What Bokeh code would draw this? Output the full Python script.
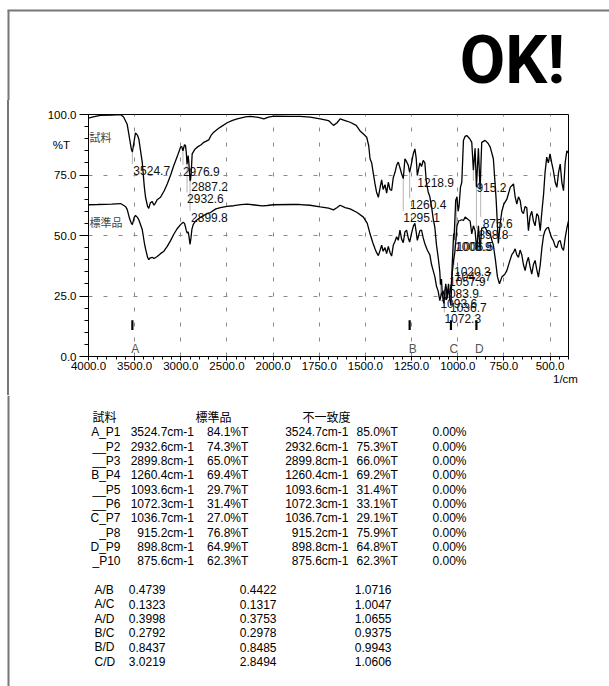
import numpy as np
from bokeh.plotting import figure
from bokeh.layouts import column, row
from bokeh.models import (ColumnDataSource, FixedTicker, LinearAxis,
                          NumeralTickFormatter, Range1d)
from bokeh.core.properties import value
from bokeh.embed import file_html
from bokeh.resources import INLINE

# ---------------- spectra (wavenumber in 1/cm, transmittance in %T) ----------------
sample_wn = [4000, 3950, 3870, 3750, 3653, 3620, 3581, 3555, 3535, 3524.7, 3510, 3491, 3470, 3455,
             3418, 3395, 3382, 3360, 3347, 3330, 3310, 3290, 3274, 3256, 3220, 3180, 3147, 3110,
             3076, 3040, 3003, 2990, 2976.9, 2960, 2949, 2940, 2932.6, 2920, 2913, 2899.8, 2887.2,
             2877, 2850, 2822, 2780, 2751, 2697, 2670, 2643, 2600, 2570, 2498, 2440, 2389, 2300,
             2245, 2160, 2100, 2050, 1996, 1900, 1854, 1800, 1745, 1700, 1673, 1655, 1637, 1610,
             1583, 1550, 1529, 1505, 1493, 1482, 1475, 1466, 1458, 1448, 1440, 1430, 1420, 1412,
             1404, 1394, 1385, 1376, 1367, 1358, 1349, 1340, 1331, 1322, 1313, 1304, 1295, 1286,
             1277, 1268, 1260.4, 1250, 1240, 1232, 1225, 1218.9, 1205, 1196, 1187, 1178, 1170,
             1160, 1151, 1142, 1133, 1124, 1115, 1106, 1097, 1093.6, 1088, 1083.9, 1076, 1072.3,
             1065, 1061, 1057.9, 1050, 1043, 1036.7, 1030, 1022, 1020.3, 1011, 1004, 998, 993,
             985, 978, 969, 960, 951, 935, 924, 915.2, 906, 898.8, 888, 879, 870, 852, 835, 824,
             807, 792, 780, 770, 761, 750, 734, 715, 698, 689, 680, 671, 662, 653, 644, 635, 626,
             617, 608, 599, 590, 581, 572, 563, 553, 544, 535, 527, 518, 509, 500, 491, 482, 472,
             463, 454, 445, 436, 427, 418, 409, 400]
sample_t = [98.5, 99.0, 99.6, 99.8, 100.0, 99.0, 96.0, 90.0, 85.5, 84.5, 88.0, 92.4, 91.5, 89.9,
            80.3, 70.0, 65.8, 62.0, 61.2, 63.5, 64.0, 62.5, 63.5, 64.8, 65.8, 68.5, 71.3, 75.0,
            78.9, 82.5, 86.5, 86.8, 85.0, 87.5, 87.2, 84.0, 79.5, 83.0, 80.0, 72.5, 76.0,
            83.7, 85.5, 86.5, 87.5, 88.5, 89.5, 91.5, 92.7, 94.0, 94.8, 96.6, 97.6, 98.2, 99.0,
            99.2, 98.8, 98.2, 98.9, 99.3, 99.2, 99.2, 98.9, 98.2, 97.5, 95.5, 96.5, 98.2, 97.5,
            96.8, 95.5, 93.2, 91.5, 90.6, 87.0, 81.7, 80.0, 76.0, 71.3, 68.0, 65.8, 70.0, 73.0,
            69.0, 71.0, 67.5, 72.0, 69.0, 68.6, 74.0, 76.0, 79.0, 80.3, 78.0, 75.5, 73.5, 81.7,
            80.5, 79.0, 76.1, 80.0, 84.0, 85.8, 82.0, 74.8, 80.0, 78.5, 81.0, 80.0, 72.0,
            68.0, 66.0, 62.0, 57.0, 53.4, 46.0, 41.0, 35.0, 29.7, 32.0, 26.0, 21.9, 25.0,
            30.0, 28.0, 24.0, 30.0, 23.6, 21.0, 38.0, 50.8, 48.0, 64.5, 66.0, 60.0, 62.0,
            70.0, 72.0, 89.3, 91.0, 91.3, 90.0, 88.5, 77.0, 86.0, 70.0, 86.0, 69.0, 88.5, 89.3, 88.0, 86.5,
            81.7, 65.0, 46.7, 55.0, 60.0, 63.0, 65.0, 70.0, 71.3, 66.0, 63.0, 66.0, 64.5, 60.0, 59.0, 62.0, 61.5,
            52.0, 58.0, 60.0, 56.0, 54.0, 59.0, 58.0, 52.0, 60.0, 67.0, 76.0, 82.4, 80.0, 83.7, 80.0, 76.8, 72.0,
            69.9, 76.0, 79.5, 72.0, 68.5, 80.0, 85.0, 84.0]

standard_wn = [4000, 3900, 3750, 3653, 3600, 3581, 3555, 3535, 3524.7, 3505, 3491, 3470, 3455, 3418,
               3395, 3382, 3360, 3347, 3330, 3310, 3290, 3256, 3220, 3183, 3147, 3111, 3076, 3040,
               3003, 2974, 2960, 2949, 2940, 2931, 2920, 2913, 2899.8, 2890, 2880, 2866, 2840,
               2787, 2720, 2679, 2620, 2570, 2500, 2426, 2350, 2281, 2200, 2120, 2064, 2000, 1900,
               1854, 1800, 1745, 1700, 1673, 1655, 1637, 1610, 1583, 1545, 1511, 1490, 1475, 1460,
               1448, 1440, 1430, 1420, 1412, 1404, 1394, 1385, 1376, 1367, 1358, 1349, 1340, 1331,
               1322, 1313, 1304, 1295, 1286, 1277, 1268, 1260.4, 1250, 1240, 1232, 1225, 1218.9,
               1205, 1196, 1187, 1178, 1165, 1151, 1142, 1133, 1124, 1115, 1106, 1097, 1088, 1079,
               1070, 1061, 1050, 1043, 1035, 1029, 1022, 1016, 1010, 1004, 995, 987, 978, 969, 960,
               942, 933, 924, 915, 906, 897, 888, 879, 870, 852, 835, 824, 815, 807, 796, 785, 774,
               760, 745, 734, 720, 707, 698, 689, 680, 671, 662, 653, 644, 635, 626, 617, 608, 599,
               590, 581, 572, 563, 553, 544, 535, 527, 518, 509, 500, 491, 482, 472, 463, 454, 445,
               436, 427, 418, 409, 400]
standard_t = [62.7, 62.8, 63.0, 63.2, 62.0, 60.8, 57.0, 55.0, 54.5, 57.5, 58.3, 57.5, 56.5, 52.5,
              47.0, 44.5, 41.0, 40.0, 40.8, 41.0, 40.5, 41.3, 42.5, 43.5, 45.5, 47.9, 50.5, 52.8,
              54.5, 55.5, 55.0, 53.5, 52.0, 51.0, 51.5, 50.0, 46.3, 49.0, 52.5, 54.5, 56.0,
              57.5, 59.0, 59.5, 61.0, 61.5, 62.0, 62.3, 62.8, 63.0, 62.6, 62.2, 62.4, 62.7, 62.8,
              62.8, 62.5, 61.8, 61.3, 60.6, 61.5, 62.5, 61.5, 61.0, 59.5, 57.6, 55.0, 50.7, 47.0,
              44.5, 43.0, 41.7, 44.0, 46.0, 43.5, 45.0, 42.5, 45.5, 43.0, 41.5, 46.0, 47.5, 49.5,
              48.0, 52.2, 48.5, 47.0, 51.5, 52.2, 49.0, 47.3, 51.0, 54.0, 55.0, 51.5, 48.0,
              52.0, 52.2, 49.0, 46.6, 44.0, 42.0, 38.0, 35.5, 33.0, 29.0, 27.0, 23.1, 26.0, 27.0,
              24.0, 23.5, 27.0, 26.0, 30.0, 35.0, 40.0, 42.9, 48.0, 54.0, 56.0, 56.2, 56.5, 56.2, 57.6,
              56.5, 56.0, 50.7, 54.0, 52.0, 43.8, 54.0, 44.0, 53.0, 53.4, 51.0, 50.5, 48.0, 46.0, 40.0, 33.0, 30.0,
              33.0, 34.0, 35.5, 39.0, 42.1, 43.0, 44.5, 42.0, 41.0, 44.0, 42.0, 38.0, 35.5, 39.0, 41.0, 37.0, 34.0,
              38.0, 39.7, 36.0, 32.8, 38.0, 45.0, 50.0, 52.0, 53.0, 53.4, 51.0, 49.0, 47.9, 45.5, 45.0, 47.5, 47.9,
              45.0, 43.8, 49.0, 53.0, 56.0]

# peak annotations on the spectra
peak_text = ["3524.7", "2976.9", "2887.2", "2932.6", "2899.8", "1218.9", "1260.4", "1295.1",
             "915.2", "875.6", "898.8", "1006.5", "1008.9", "1020.3", "1042.7", "1057.9",
             "1083.9", "1093.6", "1036.7", "1072.3"]
peak_at = [3524.7, 2976.9, 2887.2, 2932.6, 2899.8, 1218.9, 1260.4, 1295.1,
           915.2, 875.6, 898.8, 1006.5, 1008.9, 1020.3, 1042.7, 1057.9,
           1083.9, 1093.6, 1036.7, 1072.3]
peak_label_t = [76.9, 76.6, 70.2, 65.2, 57.6, 72.0, 62.7, 57.6,
                70.0, 55.1, 50.4, 45.5, 45.5, 35.2, 33.2, 31.0,
                26.2, 22.0, 20.1, 15.6]
peak_dx = [1, 0, 0, 0, 1, 0, 0, 0, 3, 2, 2, 0, -1, 0, 5, 2, 0, 0, -1, 0]

# reference bands A-D
band_names = ["A", "B", "C", "D"]
band_wn = [3524.7, 1260.4, 1036.7, 898.8]

# peak table
peak_names = ["A_P1", "__P2", "__P3", "B_P4", "__P5", "__P6", "C_P7", "_P8", "D_P9", "_P10"]
peak_wn = [3524.7, 2932.6, 2899.8, 1260.4, 1093.6, 1072.3, 1036.7, 915.2, 898.8, 875.6]
sample_pct = [84.1, 74.3, 65.0, 69.4, 29.7, 31.4, 27.0, 76.8, 64.9, 62.3]
standard_pct = [85.0, 75.3, 66.0, 69.2, 31.4, 33.1, 29.1, 75.9, 64.8, 62.3]
mismatch_pct = [0.00, 0.00, 0.00, 0.00, 0.00, 0.00, 0.00, 0.00, 0.00, 0.00]

# band ratios
ratio_names = ["A/B", "A/C", "A/D", "B/C", "B/D", "C/D"]
ratio_sample = [0.4739, 0.1323, 0.3998, 0.2792, 0.8437, 3.0219]
ratio_standard = [0.4422, 0.1317, 0.3753, 0.2978, 0.8485, 2.8494]
ratio_quotient = [1.0716, 1.0047, 1.0655, 0.9375, 0.9943, 1.0606]

major_wn = [4000, 3500, 3000, 2500, 2000, 1750, 1500, 1250, 1000, 750, 500]
major_t = [0, 25, 50, 75, 100]


def axis_pos(wn):
    """Wavenumber -> axis coordinate; the range below 2000 1/cm is drawn at double scale."""
    wn = np.asarray(wn, dtype=float)
    return np.where(wn >= 2000, 4000 - wn, 2000 + 2 * (2000 - wn))


W, H = 609, 686
RULE_W = 9                  # strip carrying the page's left rule
TOP_H, CHART_H = 100, 295   # header band and chart band heights
TABLE_H = H - TOP_H - CHART_H
U_MAX = 5200.0
FONT = "Liberation Sans"
CJK = "Noto Sans CJK JP"
RULE = "#777777"


def no_frame_align(f):
    # each band keeps its own frame; do not line frames up across the layout
    if "frame_align" in f.properties():
        f.frame_align = False
    return f


def sheet(width, height, x_range, y_range):
    """Axis-less figure whose frame fills it, in page pixel coordinates."""
    f = figure(width=width, height=height, output_backend="svg", toolbar_location=None,
               x_range=x_range, y_range=y_range, x_axis_type=None, y_axis_type=None,
               min_border=0)
    f.min_border_left = f.min_border_right = f.min_border_top = f.min_border_bottom = 0
    f.outline_line_color = None
    f.background_fill_color = "white"
    f.border_fill_color = "white"
    return no_frame_align(f)


# ---------------- header band: page rules and verdict ----------------
head = sheet(W, TOP_H, Range1d(0, W), Range1d(TOP_H, 0))
head.segment(x0=[7, 8], y0=[10, 10], x1=[W, 8], y1=[10, TOP_H], line_color=RULE, line_width=2)
head.text(x=[512], y=[60], text=["OK!"], text_font=value("Roboto"),
          text_font_style="bold", text_font_size="66px", text_color="black",
          text_align="center", text_baseline="middle")

# ---------------- chart band ----------------
# the rule strip is transparent so the band's own CSS rule shows through it
rule = sheet(RULE_W, CHART_H, Range1d(0, RULE_W), Range1d(TOP_H + CHART_H, TOP_H))
rule.background_fill_alpha = 0
rule.border_fill_alpha = 0
rule.segment(x0=[8], y0=[TOP_H], x1=[8], y1=[TOP_H + CHART_H], line_color=RULE, line_width=2)

p = figure(width=W - RULE_W, height=CHART_H, output_backend="svg", toolbar_location=None,
           x_range=Range1d(0, U_MAX), y_range=Range1d(0, 100),
           min_border_left=88 - RULE_W, min_border_right=W - 568, min_border_top=114 - TOP_H,
           min_border_bottom=TOP_H + CHART_H - 356)
no_frame_align(p)
p.background_fill_color = "white"
p.border_fill_color = "white"
p.outline_line_color = "black"
p.outline_line_width = 1

# x axis: ticks and wavenumber labels
xa = p.xaxis[0]
xa.ticker = FixedTicker(ticks=[float(v) for v in axis_pos(major_wn)],
                        minor_ticks=list(range(0, 5201, 100)))
xa.major_label_overrides = {float(u): f"{w:.1f}" for u, w in zip(axis_pos(major_wn), major_wn)}
xa.major_tick_out = 4
xa.minor_tick_out = 3
xa.major_label_standoff = 1

# y axis: tick marks only; labels come from a second axis beside it
ya = p.yaxis[0]
ya.ticker = FixedTicker(ticks=major_t, minor_ticks=list(range(0, 101, 5)))
ya.major_label_overrides = {float(t): "" for t in major_t}
ya.major_tick_out = 9
ya.minor_tick_out = 4
ya.major_label_standoff = 0

for ax in (xa, ya):
    ax.axis_line_color = "black"
    ax.major_tick_line_color = "black"
    ax.minor_tick_line_color = "black"
    ax.major_tick_in = 0
    ax.minor_tick_in = 0
    ax.major_label_text_font = FONT
    ax.major_label_text_font_size = "11.5px"
    ax.major_label_text_color = "black"

UNIT_T = 87.2
y_labels = LinearAxis(ticker=FixedTicker(ticks=major_t + [UNIT_T], minor_ticks=[]),
                      formatter=NumeralTickFormatter(format="0.0"),
                      major_label_overrides={UNIT_T: "%T\u00a0\u00a0"},
                      axis_line_color=None, major_tick_line_color=None,
                      minor_tick_line_color=None, major_tick_out=0, minor_tick_out=0,
                      major_tick_in=0, minor_tick_in=0, major_label_standoff=3,
                      major_label_text_font=FONT, major_label_text_font_size="11.5px",
                      major_label_text_color="black")
p.add_layout(y_labels, "left")

UNIT_U = 5167.0
x_unit = LinearAxis(ticker=FixedTicker(ticks=[UNIT_U], minor_ticks=[]),
                    major_label_overrides={UNIT_U: "1/cm"},
                    axis_line_color=None, major_tick_line_color=None,
                    minor_tick_line_color=None, major_tick_out=0, minor_tick_out=0,
                    major_tick_in=0, minor_tick_in=0, major_label_standoff=0,
                    major_label_text_font=FONT, major_label_text_font_size="11.5px",
                    major_label_text_color="black")
p.add_layout(x_unit, "below")

p.xgrid.ticker = FixedTicker(ticks=list(range(500, 5001, 500)))
p.ygrid.ticker = FixedTicker(ticks=[25, 50, 75])
for g in (p.xgrid[0], p.ygrid[0]):
    g.grid_line_color = "#8a8a8a"
    g.grid_line_dash = "4 11"
    g.grid_line_width = 1

# thin grey leader lines from the sample trace down to each peak label
pk_x = axis_pos(peak_at)
curve_at_peak = np.interp(pk_x, axis_pos(sample_wn), sample_t)
top_of_label = np.array(peak_label_t) + 2.6
keep = curve_at_peak > top_of_label
p.segment(x0=pk_x[keep], y0=curve_at_peak[keep], x1=pk_x[keep], y1=top_of_label[keep],
          line_color="#b4b4b4", line_width=1)

# spectra
p.line(axis_pos(sample_wn), sample_t, line_color="black", line_width=1.3)
p.line(axis_pos(standard_wn), standard_t, line_color="black", line_width=1.3)

# peak labels
p.text(x=pk_x, y=peak_label_t, text=peak_text, x_offset=peak_dx,
       text_font=value(FONT), text_font_size="12px", text_color="#111111",
       text_align="left", text_baseline="middle")

# band markers and letters
bx = axis_pos(band_wn)
p.segment(x0=bx, y0=[11.0] * 4, x1=bx, y1=[15.0] * 4, line_color="black", line_width=2.2)
p.text(x=bx, y=[3.2] * 4, text=band_names, x_offset=3, text_font=value(FONT),
       text_font_size="12px", text_color="#555555", text_align="center",
       text_baseline="middle")

# trace names inside the frame
p.text(x=[0, 0], y=[90.9, 55.4], text=["試料", "標準品"], x_offset=1,
       text_font=value(CJK), text_font_size="11px", text_color="#444444",
       text_align="left", text_baseline="middle")

# ---------------- table band ----------------
y0_tab = TOP_H + CHART_H
tab = sheet(W, TABLE_H, Range1d(0, W), Range1d(H, y0_tab))
tab.segment(x0=[8], y0=[y0_tab], x1=[8], y1=[H], line_color=RULE, line_width=2)

tab.text(x=[92, 195, 302], y=[416] * 3, text=["試料", "標準品", "不一致度"],
         text_font=value(CJK), text_font_size="12px", text_color="black",
         text_align="left", text_baseline="middle")

row0, step = 431.7, 14.35
tbl = ColumnDataSource(dict(
    y=[row0 + i * step for i in range(len(peak_names))],
    name=peak_names,
    s_wn=[f"{w:.1f}cm-1" for w in peak_wn],
    s_pct=[f"{v:.1f}%T" for v in sample_pct],
    r_wn=[f"{w:.1f}cm-1" for w in peak_wn],
    r_pct=[f"{v:.1f}%T" for v in standard_pct],
    mis=[f"{v:.2f}%" for v in mismatch_pct],
))
for field, px, align in [("name", 120, "right"), ("s_wn", 193.5, "right"),
                         ("s_pct", 206.5, "left"), ("r_wn", 348, "right"),
                         ("r_pct", 356, "left"), ("mis", 432, "left")]:
    tab.text(x=px, y="y", text=field, source=tbl, text_align=align,
             text_baseline="middle", text_font=value(FONT), text_font_size="12px",
             text_color="black")

rrow0 = 589.3
rt = ColumnDataSource(dict(
    y=[rrow0 + i * step for i in range(len(ratio_names))],
    name=ratio_names,
    a=[f"{v:.4f}" for v in ratio_sample],
    b=[f"{v:.4f}" for v in ratio_standard],
    c=[f"{v:.4f}" for v in ratio_quotient],
))
for field, px, align in [("name", 94, "left"), ("a", 165, "right"),
                         ("b", 276, "right"), ("c", 391, "right")]:
    tab.text(x=px, y="y", text=field, source=rt, text_align=align,
             text_baseline="middle", text_font=value(FONT), text_font_size="12px",
             text_color="black")

band_rule = {"background": f"linear-gradient({RULE}, {RULE}) 7px 0px / 2px 100% no-repeat"}
page = column(head, row(rule, p, spacing=0, styles=band_rule), tab, spacing=0)
open("out.html", "w").write(file_html(page, INLINE))
